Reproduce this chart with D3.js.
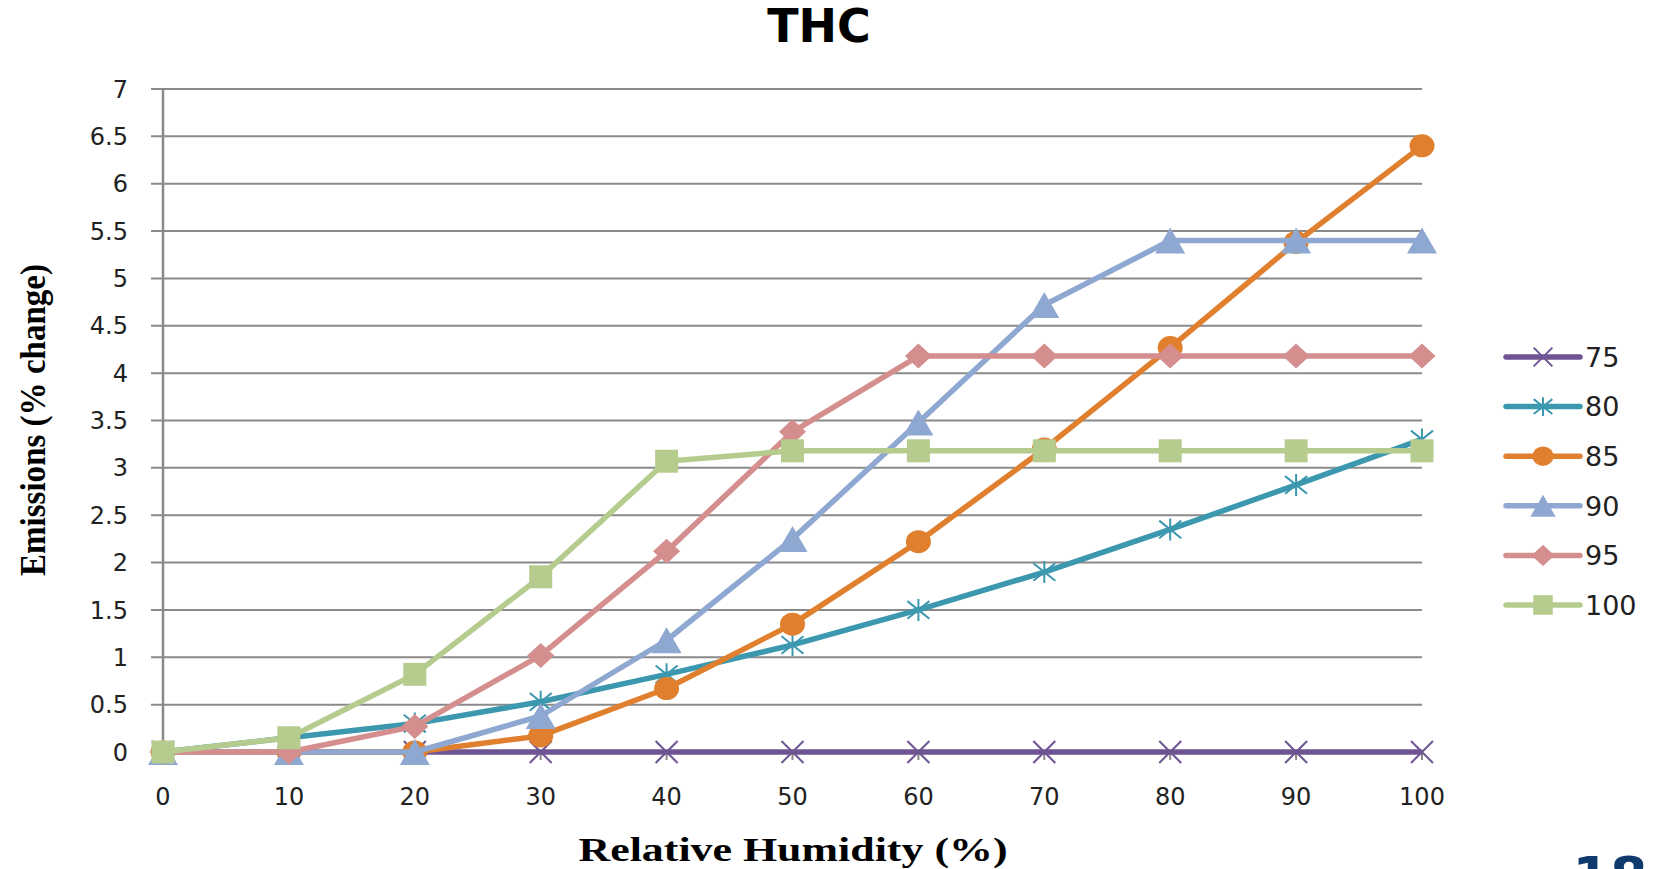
<!DOCTYPE html>
<html><head><meta charset="utf-8">
<script src="https://cdn.jsdelivr.net/npm/d3@7"></script>
<style>body{margin:0;background:#fff}svg{display:block}</style>
</head><body>
<svg id="c" width="1658" height="869"></svg>
<script>
const humidity = [0,10,20,30,40,50,60,70,80,90,100];
const seriesNames = ["75","80","85","90","95","100"];
const s75  = [0,0,0,0,0,0,0,0,0,0,0];
const s80  = [0,0.15,0.30,0.53,0.82,1.13,1.50,1.90,2.35,2.82,3.30];
const s85  = [0,0,0,0.17,0.67,1.35,2.22,3.20,4.27,5.38,6.40];
const s90  = [0,0,0,0.38,1.18,2.25,3.48,4.72,5.40,5.40,5.40];
const s95  = [0,0,0.27,1.02,2.12,3.38,4.18,4.18,4.18,4.18,4.18];
const s100 = [0,0.15,0.82,1.85,3.07,3.18,3.18,3.18,3.18,3.18,3.18];
const yTicks = [0,0.5,1,1.5,2,2.5,3,3.5,4,4.5,5,5.5,6,6.5,7];
const xTicks = [0,10,20,30,40,50,60,70,80,90,100];

const seriesValues = [s75,s80,s85,s90,s95,s100];
const colors = ["#6e5492","#3c98af","#e0802f","#8ea8d1","#d48e8e","#b5cc8e"];
const markers = ["x","asterisk","circle","triangle","diamond","square"];

const svg = d3.select("#c");
const x = d3.scaleLinear().domain([0,100]).range([163,1422]);
const y = d3.scaleLinear().domain([0,7]).range([752,89]);

svg.append("g").selectAll("line").data(yTicks).join("line")
  .attr("x1",151).attr("x2",x(100))
  .attr("y1",d=>y(d)).attr("y2",d=>y(d))
  .attr("stroke","#8a8a8a").attr("stroke-width",2);
svg.append("line").attr("x1",x(0)).attr("x2",x(0)).attr("y1",y(7)).attr("y2",y(0)+8)
  .attr("stroke","#8a8a8a").attr("stroke-width",2.5);
svg.append("g").selectAll("line").data(xTicks).join("line")
  .attr("x1",d=>x(d)).attr("x2",d=>x(d)).attr("y1",y(0)).attr("y2",y(0)+8)
  .attr("stroke","#8a8a8a").attr("stroke-width",2);

svg.append("g").selectAll("text").data(yTicks).join("text")
  .attr("x",128).attr("y",d=>y(d)).attr("dy","0.36em")
  .attr("text-anchor","end").attr("font-family","DejaVu Sans").attr("font-size",24)
  .attr("fill","#222").text(d=>d);
svg.append("g").selectAll("text").data(xTicks).join("text")
  .attr("x",d=>x(d)).attr("y",796).attr("dy","0.36em")
  .attr("text-anchor","middle").attr("font-family","DejaVu Sans").attr("font-size",24)
  .attr("fill","#222").text(d=>d);

svg.append("text").attr("x",819).attr("y",42).attr("text-anchor","middle")
  .attr("font-family","DejaVu Sans").attr("font-weight","bold").attr("font-size",46)
  .attr("fill","#000").text("THC");
svg.append("text").attr("x",793).attr("y",861).attr("text-anchor","middle")
  .attr("font-family","Liberation Serif").attr("font-weight","bold").attr("font-size",33)
  .attr("textLength",429).attr("lengthAdjust","spacingAndGlyphs")
  .attr("fill","#000").text("Relative Humidity (%)");
svg.append("text").attr("transform","translate(45,420) rotate(-90)").attr("text-anchor","middle")
  .attr("font-family","Liberation Serif").attr("font-weight","bold").attr("font-size",36)
  .attr("textLength",312).attr("lengthAdjust","spacingAndGlyphs")
  .attr("fill","#000").text("Emissions (% change)");

function drawMarker(g, type, cx, cy, color, scale=1){
  const k = scale;
  if(type==="x"){
    const s=11*k;
    g.append("path").attr("d",`M${cx-s},${cy-s}L${cx+s},${cy+s}M${cx-s},${cy+s}L${cx+s},${cy-s}`)
      .attr("stroke",color).attr("stroke-width",2).attr("fill","none");
  } else if(type==="asterisk"){
    const s=11*k;
    g.append("path").attr("d",`M${cx-s},${cy-s*0.8}L${cx+s},${cy+s*0.8}M${cx-s},${cy+s*0.8}L${cx+s},${cy-s*0.8}M${cx},${cy-s}L${cx},${cy+s}`)
      .attr("stroke",color).attr("stroke-width",2).attr("fill","none");
  } else if(type==="circle"){
    g.append("ellipse").attr("cx",cx).attr("cy",cy).attr("rx",12.5*k).attr("ry",11.5*k).attr("fill",color);
  } else if(type==="triangle"){
    const w=15*k,h=13*k;
    g.append("path").attr("d",`M${cx},${cy-h}L${cx+w},${cy+h}L${cx-w},${cy+h}Z`).attr("fill",color);
  } else if(type==="diamond"){
    const w=13.5*k,h=12.5*k;
    g.append("path").attr("d",`M${cx},${cy-h}L${cx+w},${cy}L${cx},${cy+h}L${cx-w},${cy}Z`).attr("fill",color);
  } else if(type==="square"){
    const s=11.5*k;
    g.append("rect").attr("x",cx-s).attr("y",cy-s).attr("width",2*s).attr("height",2*s).attr("fill",color);
  }
}

const line = d3.line().x((d,i)=>x(humidity[i])).y(d=>y(d));
seriesValues.forEach((vals,si)=>{
  const g = svg.append("g");
  g.append("path").datum(vals).attr("d",line).attr("fill","none")
    .attr("stroke",colors[si]).attr("stroke-width",5.5).attr("stroke-linejoin","round");
  vals.forEach((v,i)=>drawMarker(g, markers[si], x(humidity[i]), y(v), colors[si]));
});

const legY = d3.scaleLinear().domain([0,5]).range([357,605]);
seriesNames.forEach((n,i)=>{
  const g = svg.append("g");
  const ly = legY(i);
  g.append("line").attr("x1",1506).attr("x2",1580).attr("y1",ly).attr("y2",ly)
    .attr("stroke",colors[i]).attr("stroke-width",5.5).attr("stroke-linecap","round");
  drawMarker(g, markers[i], 1543, ly, colors[i], 0.85);
  g.append("text").attr("x",1585).attr("y",ly).attr("dy","0.36em")
    .attr("font-family","DejaVu Sans").attr("font-size",27).attr("fill","#222").text(n);
});

svg.append("text").attr("x",1610).attr("y",895).attr("text-anchor","middle")
  .attr("font-family","DejaVu Sans").attr("font-weight","bold").attr("font-size",54)
  .attr("fill","#103a6e").text("18");
</script>
</body></html>
